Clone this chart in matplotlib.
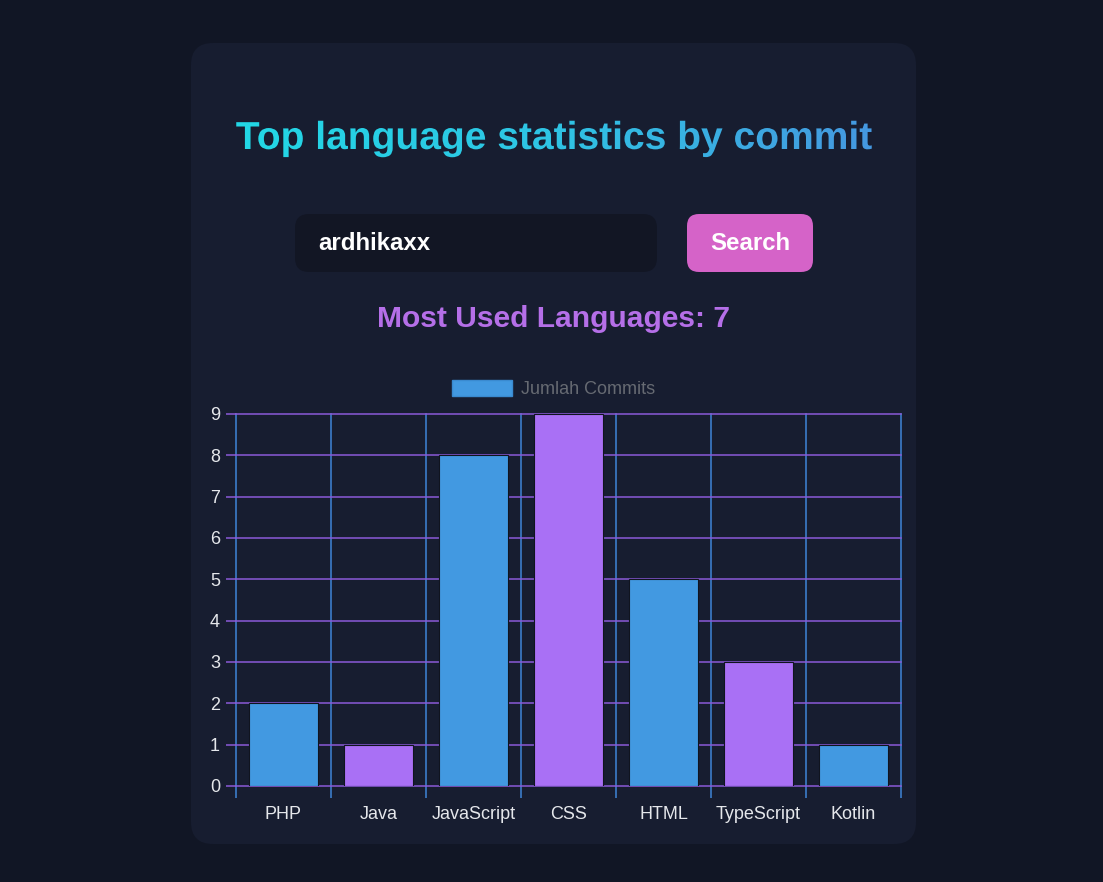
import numpy as np
import matplotlib
matplotlib.use('Agg')
import matplotlib.pyplot as plt
import matplotlib.transforms as mtransforms
from matplotlib.patches import FancyBboxPatch, PathPatch, Patch
from matplotlib.textpath import TextPath
from matplotlib.font_manager import FontProperties
from matplotlib.colors import LinearSegmentedColormap

# --- data ---
languages = ['PHP', 'Java', 'JavaScript', 'CSS', 'HTML', 'TypeScript', 'Kotlin']
commits = [2, 1, 8, 9, 5, 3, 1]
username = 'ardhikaxx'
title = 'Top language statistics by commit'
subtitle = f'Most Used Languages: {len(languages)}'
legend_label = 'Jumlah Commits'

W, H = 1103, 882
PX = 0.72  # px -> pt at dpi 100
FONT = 'Liberation Sans'

BG = '#111625'
CARD = '#171d30'
BLUE = '#4299e1'
PURPLE = '#a970f5'
GRID_H = '#8b5ad8'
GRID_V = '#3f85d8'
TICK_TXT = '#e5e7eb'

plt.rcParams['font.family'] = [FONT, 'DejaVu Sans']

fig = plt.figure(figsize=(W / 100, H / 100), dpi=100)
fig.patch.set_facecolor(BG)

# background axes in pixel coordinates (y downwards)
bg = fig.add_axes([0, 0, 1, 1])
bg.set_xlim(0, W)
bg.set_ylim(H, 0)
bg.axis('off')


def rounded(x0, y0, x1, y1, r, color):
    p = FancyBboxPatch((x0 + r, y0 + r), (x1 - x0) - 2 * r, (y1 - y0) - 2 * r,
                       boxstyle=f'round,pad={r}', facecolor=color,
                       edgecolor='none')
    bg.add_patch(p)


# card
rounded(191, 43, 916, 844, 22, CARD)

# gradient title
fp = FontProperties(family=FONT, weight='bold')
tp = TextPath((0, 0), title, size=39, prop=fp)
ext = tp.get_extents()
tx = 554 - (ext.x0 + ext.x1) / 2
ty = 149
trans = mtransforms.Affine2D().scale(1, -1).translate(tx, ty) + bg.transData
patch = PathPatch(tp, transform=trans, facecolor='none', edgecolor='none')
bg.add_patch(patch)
grad_cmap = LinearSegmentedColormap.from_list('title', ['#22d8e6', '#2fc4e4', '#4598e0'])
grad = np.linspace(0, 1, 256).reshape(1, -1)
im = bg.imshow(grad, cmap=grad_cmap, aspect='auto',
               extent=(tx + ext.x0, tx + ext.x1, ty + 20, ty - 45), zorder=3)
im.set_clip_path(patch)
bg.set_xlim(0, W)
bg.set_ylim(H, 0)

# search input and button
rounded(295, 214, 657, 272, 14, '#121624')
bg.text(318, 244, username, color='white', fontsize=24 * PX, fontweight='bold',
        ha='left', va='center')
rounded(687, 214, 813, 272, 12, '#d563c8')
bg.text(750, 244, 'Search', color='white', fontsize=24 * PX, fontweight='bold',
        ha='center', va='center')

# subtitle
bg.text(554, 319, subtitle, color='#b56fe8', fontsize=30 * PX, fontweight='bold',
        ha='center', va='center')

# --- bar chart ---
left, right, top, bottom = 236, 901, 414, 786
ax = fig.add_axes([left / W, 1 - bottom / H, (right - left) / W, (bottom - top) / H])
ax.set_facecolor('none')

x = np.arange(len(languages))
colors = [BLUE if i % 2 == 0 else PURPLE for i in range(len(languages))]
ax.bar(x, commits, width=0.72, color=colors, edgecolor='#10141f', linewidth=0.8, zorder=3)

ax.set_xlim(-0.5, len(languages) - 0.5)
ax.set_ylim(0, 9)
ax.set_yticks(range(0, 10))
ax.set_xticks(np.arange(-0.5, len(languages), 1.0))
ax.set_xticklabels([])
ax.set_xticks(x, minor=True)
ax.set_xticklabels(languages, minor=True)

for s in ax.spines.values():
    s.set_visible(False)

ax.grid(axis='y', color=GRID_H, linewidth=1.1, zorder=1)
ax.grid(axis='x', which='major', color=GRID_V, linewidth=1.1, zorder=1)
ax.set_axisbelow(True)
for ln in ax.get_xgridlines() + ax.get_ygridlines():
    ln.set_clip_on(False)

ax.tick_params(axis='y', length=10 * PX, width=1.1, color=GRID_H, pad=6 * PX,
               labelsize=18 * PX, labelcolor=TICK_TXT)
ax.tick_params(axis='x', which='major', length=12 * PX, width=1.1, color=GRID_V)
ax.tick_params(axis='x', which='minor', length=0, pad=20 * PX,
               labelsize=18 * PX, labelcolor=TICK_TXT)

handle = Patch(facecolor=BLUE, edgecolor='#3a8ad0', linewidth=1)
ax.legend([handle], [legend_label], loc='center',
          bbox_to_anchor=((553.5 - left) / (right - left), (bottom - 389) / (bottom - top)),
          frameon=False, fontsize=18 * PX, handlelength=60 / 18, handleheight=17 / 18,
          handletextpad=0.5, labelcolor='#666a72')

fig.savefig('out.png', dpi=100, facecolor=BG)
